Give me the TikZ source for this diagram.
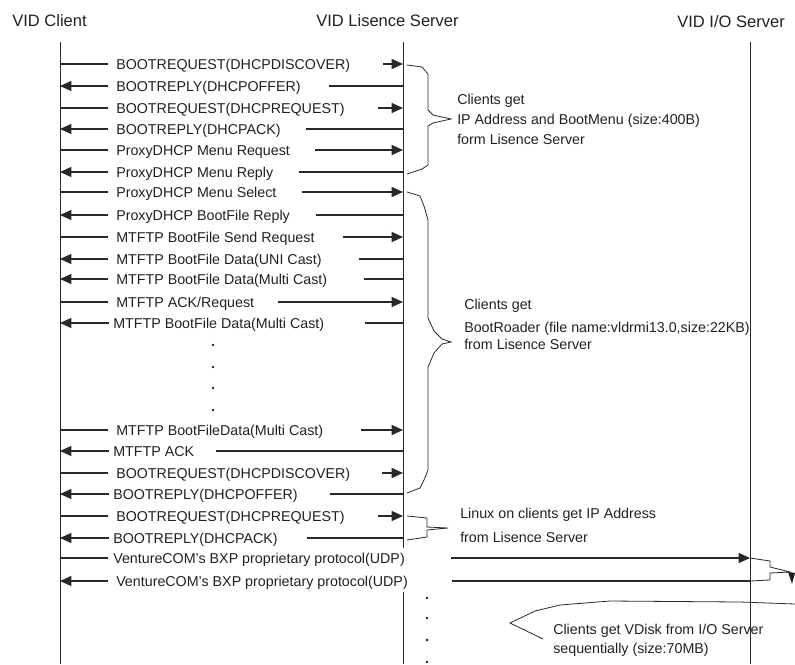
\documentclass[tikz,border=0pt]{standalone}
\usepackage{fontspec}
\setmainfont{Liberation Sans}
\definecolor{inkgray}{RGB}{35, 31, 32}
\definecolor{wiregray}{RGB}{40, 40, 40}
\usetikzlibrary{arrows.meta, calc}

\begin{document}
\begin{tikzpicture}[x=0.75pt, y=-0.75pt,
  head/.style={anchor=west, inner sep=0pt, text=inkgray, font=\fontsize{12.4}{14}\selectfont, text height=8.9pt, text depth=0pt},
  lbl/.style={anchor=west, inner sep=0pt, text=inkgray, font=\fontsize{10.7}{12}\selectfont, text height=7.7pt, text depth=0pt},
  life/.style={wiregray, line width=0.75pt},
  wire/.style={wiregray, line width=0.8pt},
  msgarrow/.style={-{Triangle[length=8.5pt, width=7.5pt]}},
  brace/.style={wiregray, line width=0.6pt}]
  \useasboundingbox (0,0) rectangle (795,664);

  % Headers
  \node[head] (hcl) at (12,21) {VID Client};
  \node[head] (hls) at (316,21) {VID Lisence Server};
  \node[head] (hio) at (677,22) {VID I/O Server};

  % Lifelines
  \coordinate (cltop) at (60,42);
  \coordinate (clbot) at (60,664);
  \coordinate (lstop) at (403,42);
  \coordinate (lsbrk) at (403,548);
  \coordinate (lsres) at (403,592);
  \coordinate (lsbot) at (403,664);
  \coordinate (iotop) at (750,42);
  \coordinate (iobot) at (750,664);
  \draw[life] (cltop) -- (clbot);
  \draw[life] (lstop) -- (lsbrk);
  \draw[life] (lsres) -- (lsbot);
  \draw[life] (iotop) -- (iobot);

  % DHCP and boot menu
  \node[lbl] (m1) at (116,64) {BOOTREQUEST(DHCPDISCOVER)};
  \draw[wire] (m1.west -| cltop) -- ($(m1.west)+(-8,0)$);
  \draw[wire, msgarrow] ($(m1.east)+(33,0)$) -- (m1.east -| lstop);

  \node[lbl] (m2) at (116,86) {BOOTREPLY(DHCPOFFER)};
  \draw[wire, msgarrow] ($(m2.west)+(-8,0)$) -- (m2.west -| cltop);
  \draw[wire] ($(m2.east)+(28,0)$) -- (m2.east -| lstop);

  \node[lbl] (m3) at (116,108) {BOOTREQUEST(DHCPREQUEST)};
  \draw[wire] (m3.west -| cltop) -- ($(m3.west)+(-8,0)$);
  \draw[wire, msgarrow] ($(m3.east)+(33,0)$) -- (m3.east -| lstop);

  \node[lbl] (m4) at (116,129) {BOOTREPLY(DHCPACK)};
  \draw[wire, msgarrow] ($(m4.west)+(-8,0)$) -- (m4.west -| cltop);
  \draw[wire] ($(m4.east)+(25,0)$) -- (m4.east -| lstop);

  \node[lbl] (m5) at (116,150) {ProxyDHCP Menu Request};
  \draw[wire] (m5.west -| cltop) -- ($(m5.west)+(-8,0)$);
  \draw[wire, msgarrow] ($(m5.east)+(25,0)$) -- (m5.east -| lstop);

  \node[lbl] (m6) at (116,172) {ProxyDHCP Menu Reply};
  \draw[wire, msgarrow] ($(m6.west)+(-8,0)$) -- (m6.west -| cltop);
  \draw[wire] ($(m6.east)+(25,0)$) -- (m6.east -| lstop);

  % Boot file
  \node[lbl] (m7) at (116,192) {ProxyDHCP Menu Select};
  \draw[wire] (m7.west -| cltop) -- ($(m7.west)+(-8,0)$);
  \draw[wire, msgarrow] ($(m7.east)+(25,0)$) -- (m7.east -| lstop);

  \node[lbl] (m8) at (116,215) {ProxyDHCP BootFile Reply};
  \draw[wire, msgarrow] ($(m8.west)+(-8,0)$) -- (m8.west -| cltop);
  \draw[wire] ($(m8.east)+(26,0)$) -- (m8.east -| lstop);

  \node[lbl] (m9) at (116,237) {MTFTP BootFile Send Request};
  \draw[wire] (m9.west -| cltop) -- ($(m9.west)+(-8,0)$);
  \draw[wire, msgarrow] ($(m9.east)+(28,0)$) -- (m9.east -| lstop);

  \node[lbl] (m10) at (116,259) {MTFTP BootFile Data(UNI Cast)};
  \draw[wire, msgarrow] ($(m10.west)+(-8,0)$) -- (m10.west -| cltop);
  \draw[wire] ($(m10.east)+(37,0)$) -- (m10.east -| lstop);

  \node[lbl] (m11) at (116,279) {MTFTP BootFile Data(Multi Cast)};
  \draw[wire, msgarrow] ($(m11.west)+(-8,0)$) -- (m11.west -| cltop);
  \draw[wire] ($(m11.east)+(37,0)$) -- (m11.east -| lstop);

  \node[lbl] (m12) at (116,302) {MTFTP ACK/Request};
  \draw[wire] (m12.west -| cltop) -- ($(m12.west)+(-8,0)$);
  \draw[wire, msgarrow] ($(m12.east)+(24,0)$) -- (m12.east -| lstop);

  \node[lbl] (m13) at (113,323) {MTFTP BootFile Data(Multi Cast)};
  \draw[wire, msgarrow] ($(m13.west)+(-4,0)$) -- (m13.west -| cltop);
  \draw[wire] ($(m13.east)+(41,0)$) -- (m13.east -| lstop);

  \fill[inkgray] (213,345) circle (1.1pt);
  \fill[inkgray] (213,367) circle (1.1pt);
  \fill[inkgray] (213,388) circle (1.1pt);
  \fill[inkgray] (213,410) circle (1.1pt);

  \node[lbl] (m14) at (116,430) {MTFTP BootFileData(Multi Cast)};
  \draw[wire] (m14.west -| cltop) -- ($(m14.west)+(-8,0)$);
  \draw[wire, msgarrow] ($(m14.east)+(38,0)$) -- (m14.east -| lstop);

  \node[lbl] (m15) at (113,451) {MTFTP ACK};
  \draw[wire, msgarrow] ($(m15.west)+(-4,0)$) -- (m15.west -| cltop);
  \draw[wire] ($(m15.east)+(22,0)$) -- (m15.east -| lstop);

  \node[lbl] (m16) at (116,473) {BOOTREQUEST(DHCPDISCOVER)};
  \draw[wire] (m16.west -| cltop) -- ($(m16.west)+(-8,0)$);
  \draw[wire, msgarrow] ($(m16.east)+(32,0)$) -- (m16.east -| lstop);

  \node[lbl] (m17) at (113,494) {BOOTREPLY(DHCPOFFER)};
  \draw[wire, msgarrow] ($(m17.west)+(-4,0)$) -- (m17.west -| cltop);
  \draw[wire] ($(m17.east)+(32,0)$) -- (m17.east -| lstop);

  % Linux IP address
  \node[lbl] (m18) at (116,516) {BOOTREQUEST(DHCPREQUEST)};
  \draw[wire] (m18.west -| cltop) -- ($(m18.west)+(-8,0)$);
  \draw[wire, msgarrow] ($(m18.east)+(33,0)$) -- (m18.east -| lstop);

  \node[lbl] (m19) at (113,538) {BOOTREPLY(DHCPACK)};
  \draw[wire, msgarrow] ($(m19.west)+(-4,0)$) -- (m19.west -| cltop);
  \draw[wire] ($(m19.east)+(29,0)$) -- (m19.east -| lstop);

  % VDisk from I/O server
  \node[lbl] (m20) at (113,558) {VentureCOM's BXP proprietary protocol(UDP)};
  \draw[wire] (m20.west -| cltop) -- ($(m20.west)+(-5,0)$);
  \draw[wire, msgarrow] ($(m20.east)+(46,0)$) -- (m20.east -| iotop);

  \node[lbl] (m21) at (116,581) {VentureCOM's BXP proprietary protocol(UDP)};
  \draw[wire, msgarrow] ($(m21.west)+(-8,0)$) -- (m21.west -| cltop);
  \draw[wire] ($(m21.east)+(44,0)$) -- (m21.east -| iotop);

  \fill[inkgray] (427,598) circle (1.1pt);
  \fill[inkgray] (427,618) circle (1.1pt);
  \fill[inkgray] (427,640) circle (1.1pt);
  \fill[inkgray] (427,662) circle (1.1pt);

  % Braces
  \draw[brace] (407,65) -- (422,67) -- (428,74) -- (428,110) -- (433,115) -- (451,119)
    -- (433,123) -- (428,126) -- (428,165) -- (422,169) -- (407,174);
  \draw[brace] (407,192) -- (420,196) -- (424,206) -- (428,220) -- (428,318) -- (434,331)
    -- (442,339) -- (451,342) -- (442,344) -- (434,353) -- (428,367) -- (428,470)
    -- (424,480) -- (420,488) -- (407,493);
  \draw[brace] (407,516) -- (427,518) -- (427,527) -- (448,528) -- (427,530) -- (427,537)
    -- (407,540);
  \draw[brace] (750,558) -- (770,561) -- (770,567) -- (790,572) -- (770,573) -- (770,580)
    -- (750,581);
  \fill[inkgray] (788,572) -- (795,573) -- (792,584) -- cycle;
  \draw[brace] (795,604) -- (740,602) -- (610,601) -- (560,605) -- (535,611) -- (510,623)
    -- (543,639);

  % Notes
  \node[lbl] (n1a) at (457,99) {Clients get};
  \node[lbl] (n1b) at (457,119) {IP Address and BootMenu (size:400B)};
  \node[lbl] (n1c) at (457,139) {form Lisence Server};
  \node[lbl] (n2a) at (464,304) {Clients get};
  \node[lbl] (n2b) at (464,327) {BootRoader (file name:vldrmi13.0,size:22KB)};
  \node[lbl] (n2c) at (464,344) {from Lisence Server};
  \node[lbl] (n3a) at (460,513) {Linux on clients get IP Address};
  \node[lbl] (n3b) at (460,537) {from Lisence Server};
  \node[lbl] (n4a) at (553,629) {Clients get VDisk from I/O Server};
  \node[lbl] (n4b) at (553,648) {sequentially (size:70MB)};
\end{tikzpicture}
\end{document}
